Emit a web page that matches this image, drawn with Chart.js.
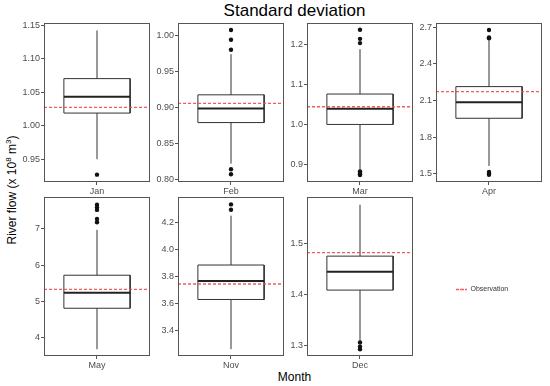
<!DOCTYPE html>
<html>
<head>
<meta charset="utf-8">
<script src="https://cdn.jsdelivr.net/npm/chart.js@4/dist/chart.umd.min.js"></script>
<style>
  html, body { margin: 0; padding: 0; background: #fff; }
  #wrap { position: relative; width: 550px; height: 386px; overflow: hidden; font-family: "Liberation Sans", Arial, sans-serif; }
  canvas { position: absolute; }
  .txt { position: absolute; white-space: nowrap; color: #000; }
</style>
</head>
<body>
<div id="wrap">
  <div class="txt" id="title" style="left:0;width:589px;top:0px;text-align:center;font-size:17px;line-height:22px;">Standard deviation</div>
  <div class="txt" id="ytitle" style="left:11px;top:190px;font-size:12px;transform:translate(-50%,-50%) rotate(-90deg);">River flow (x 10<sup style="font-size:8px">8</sup> m<sup style="font-size:8px">3</sup>)</div>
  <div class="txt" id="xtitle" style="left:0;width:589px;top:369px;text-align:center;font-size:12px;line-height:16px;">Month</div>
</div>
<script>
// ---- data ----
const months = ['Jan', 'Feb', 'Mar', 'Apr', 'May', 'Nov', 'Dec'];
const whiskerLow  = [0.950, 0.8225, 0.887, 1.563, 3.68, 3.266, 1.3085];
const q1          = [1.019, 0.8795, 1.0005, 1.954, 4.81, 3.632, 1.409];
const median      = [1.0435, 0.899, 1.0394, 2.0855, 5.24, 3.768, 1.4447];
const q3          = [1.0705, 0.918, 1.076, 2.214, 5.72, 3.886, 1.4753];
const whiskerHigh = [1.1425, 0.9745, 1.1875, 2.595, 6.97, 4.25, 1.5757];
const outliers = [
  [0.927],
  [1.0079, 0.9944, 0.9805, 0.8146, 0.8077],
  [1.2357, 1.213, 1.2025, 0.884, 0.880, 0.877, 0.875],
  [2.679, 2.618, 2.610, 1.513, 1.500, 1.490],
  [7.664, 7.59, 7.52, 7.27, 7.18],
  [4.333, 4.294],
  [1.3066, 1.2987, 1.2936]
];
const observation = [1.0275, 0.906, 1.0445, 2.173, 5.33, 3.746, 1.4823];
const yMin = [0.916, 0.797, 0.8576, 1.431, 3.494, 3.2154, 1.2804];
const yMax = [1.1536, 1.0177, 1.2524, 2.736, 7.876, 4.3875, 1.5907];
const yTickLabels = [
  ['0.95', '1.00', '1.05', '1.10', '1.15'],
  ['0.80', '0.85', '0.90', '0.95', '1.00'],
  ['0.9', '1.0', '1.1', '1.2'],
  ['1.5', '1.8', '2.1', '2.4', '2.7'],
  ['4', '5', '6', '7'],
  ['3.4', '3.6', '3.8', '4.0', '4.2'],
  ['1.3', '1.4', '1.5']
];
const legendLabel = 'Observation';

// ---- layout ----
const colLeft = [44, 178, 307, 436];
const rowTop = [23, 197];
const panelW = 109, panelH = 159;
const AXW = 40, PADT = 8, XAH = 18;
const obsColor = 'rgba(240,75,70,0.9)';
const boxColor = '#333333';
const tickFont = { family: '"Liberation Sans", Arial, sans-serif', size: 9 };

const framePlugin = {
  id: 'frame',
  afterDraw(chart) {
    const a = chart.chartArea, c = chart.ctx;
    c.save();
    c.strokeStyle = '#555555';
    c.lineWidth = 1;
    c.strokeRect(Math.round(a.left) + 0.5, Math.round(a.top) + 0.5, Math.round(a.right - a.left) - 1, Math.round(a.bottom - a.top) - 1);
    c.restore();
  }
};

const wrap = document.getElementById('wrap');
months.forEach((m, i) => {
  const col = i < 4 ? i : i - 4;
  const row = i < 4 ? 0 : 1;
  const px = colLeft[col], py = rowTop[row];
  const cv = document.createElement('canvas');
  const W = AXW + panelW + 1, H = PADT + panelH + XAH;
  cv.width = W; cv.height = H;
  cv.style.left = (px - AXW) + 'px';
  cv.style.top = (py - PADT) + 'px';
  cv.style.width = W + 'px'; cv.style.height = H + 'px';
  wrap.appendChild(cv);

  const bx0 = 1 - 0.375, bx1 = 1 + 0.375;
  const line = (pts, extra) => Object.assign({
    type: 'line', data: pts, borderColor: boxColor, borderWidth: 1,
    pointRadius: 0, pointHoverRadius: 0, fill: false, tension: 0, showLine: true
  }, extra || {});

  const tickVals = yTickLabels[i].map(Number);

  new Chart(cv.getContext('2d'), {
    type: 'scatter',
    data: {
      datasets: [
        line([{ x: 0.4, y: observation[i] }, { x: 1.6, y: observation[i] }],
             { label: legendLabel, borderColor: obsColor, borderWidth: 1.3, borderDash: [3, 2] }),
        line([{ x: bx0, y: median[i] }, { x: bx1, y: median[i] }], { borderWidth: 2, borderColor: '#222' }),
        line([{ x: bx0, y: q1[i] }, { x: bx0, y: q3[i] }, { x: bx1, y: q3[i] }, { x: bx1, y: q1[i] }, { x: bx0, y: q1[i] }]),
        line([{ x: 1, y: q3[i] }, { x: 1, y: whiskerHigh[i] }]),
        line([{ x: 1, y: whiskerLow[i] }, { x: 1, y: q1[i] }]),
        { type: 'scatter', data: outliers[i].map(v => ({ x: 1, y: v })), pointRadius: 2.2,
          pointBackgroundColor: '#111', pointBorderColor: '#111', pointBorderWidth: 0, showLine: false }
      ]
    },
    options: {
      responsive: false, animation: false, devicePixelRatio: 1,
      layout: { padding: { top: PADT, right: 1, left: 0, bottom: 0 } },
      plugins: { legend: { display: false }, tooltip: { enabled: false }, title: { display: false } },
      scales: {
        x: {
          type: 'linear', min: 0.4, max: 1.6,
          afterBuildTicks: s => { s.ticks = [{ value: 1 }]; },
          afterFit: s => { s.height = XAH; },
          grid: { drawOnChartArea: false, drawTicks: true, tickLength: 3, color: '#555', tickColor: '#555' },
          border: { display: false },
          ticks: { callback: () => m, font: tickFont, color: '#4d4d4d', padding: 1, maxRotation: 0 }
        },
        y: {
          type: 'linear', min: yMin[i], max: yMax[i],
          afterBuildTicks: s => { s.ticks = tickVals.map(v => ({ value: v })); },
          afterFit: s => { s.width = AXW; },
          grid: { drawOnChartArea: false, drawTicks: true, tickLength: 3, color: '#555', tickColor: '#555' },
          border: { display: false },
          ticks: { callback: (v, idx) => yTickLabels[i][idx], font: tickFont, color: '#4d4d4d', padding: 1 }
        }
      }
    },
    plugins: [framePlugin]
  });
});

// legend (separate small chart holding only the legend)
const lc = document.createElement('canvas');
lc.width = 80; lc.height = 14;
lc.style.left = '456px'; lc.style.top = '286px';
lc.style.width = '80px'; lc.style.height = '14px';
wrap.appendChild(lc);
new Chart(lc.getContext('2d'), {
  type: 'line',
  data: { datasets: [{ label: legendLabel, data: [], borderColor: obsColor, backgroundColor: 'rgba(0,0,0,0)', borderDash: [3, 2], borderWidth: 1.3 }] },
  options: {
    responsive: false, animation: false, devicePixelRatio: 1,
    layout: { padding: 0 },
    scales: { x: { display: false }, y: { display: false } },
    plugins: {
      tooltip: { enabled: false },
      legend: {
        display: true, position: 'top', align: 'start',
        labels: {
          usePointStyle: false, boxWidth: 11, boxHeight: 0, padding: 0,
          color: '#333', font: { family: '"Liberation Sans", Arial, sans-serif', size: 7 }
        }
      }
    }
  }
});
</script>
</body>
</html>
